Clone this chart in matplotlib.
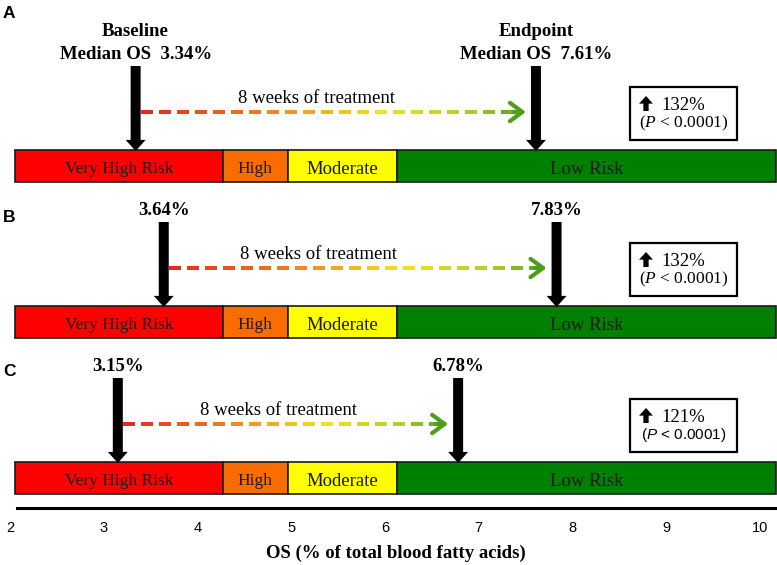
import numpy as np
import matplotlib
matplotlib.use('Agg')
import matplotlib.pyplot as plt
from matplotlib.collections import LineCollection
from matplotlib.colors import LinearSegmentedColormap
from matplotlib.patches import Rectangle

plt.rcParams['font.family'] = ['Liberation Serif', 'DejaVu Serif']
plt.rcParams['mathtext.fontset'] = 'custom'
plt.rcParams['mathtext.rm'] = 'Liberation Serif'
plt.rcParams['mathtext.it'] = 'Liberation Serif:italic'
plt.rcParams['mathtext.sf'] = 'Liberation Sans:italic'

# data
panel_labels = ['A', 'B', 'C']
baseline_os = [3.34, 3.64, 3.15]
endpoint_os = [7.61, 7.83, 6.78]
increase_pct = [132, 132, 121]

risk_labels = ['Very High Risk', 'High', 'Moderate', 'Low Risk']
risk_edges = [2.05, 4.27, 4.96, 6.13, 10.17]
risk_colors = ['#ff0000', '#f86c00', '#ffff00', '#008000']

ticks = [2, 3, 4, 5, 6, 7, 8, 9, 10]
xlabel = 'OS (% of total blood fatty acids)'

# layout (pixels)
W, H = 777, 565
bar_tops = [150, 306, 462]
bar_h = 32
letter_y = [14, 217, 371]
treat_text_x = [317, 318, 279]
risk_sizes = [12.5, 12.5, 13.5, 13.5]
PT = 0.72  # points per pixel at dpi 100


def px2v(px):
    return 2 + (px - 10) / 93.75


def v2px(v):
    return 10 + (v - 2) * 93.75


grad = LinearSegmentedColormap.from_list(
    'treat', [(0, '#e52620'), (0.3, '#f07a1e'), (0.62, '#f4e21c'),
              (0.85, '#b2cf28'), (1, '#4e9e1c')])

fig = plt.figure(figsize=(W / 100, H / 100), dpi=100)
ax = fig.add_axes([0, 0, 1, 1])
ax.set_xlim(px2v(0), px2v(W))
ax.set_ylim(H, 0)
ax.axis('off')

for i in range(3):
    top = bar_tops[i]
    b = baseline_os[i]
    e = endpoint_os[i]

    # risk bar
    lefts = risk_edges[:-1]
    widths = np.diff(risk_edges)
    ax.barh([top + bar_h / 2] * 4, widths, left=lefts, height=bar_h,
            color=risk_colors, edgecolor='#1a1a1a', linewidth=1.2, zorder=2)
    for j in range(4):
        ax.text(lefts[j] + widths[j] / 2, top + bar_h / 2 + 1, risk_labels[j],
                ha='center', va='center_baseline', fontsize=risk_sizes[j],
                color='#1a1a1a', zorder=3)

    # black down arrows
    for x in (b, e):
        ax.annotate('', xy=(x, top + 1), xytext=(x, top - 84),
                    arrowprops=dict(arrowstyle='simple,head_width=14.4,head_length=8,tail_width=7.2',
                                    mutation_scale=1, fc='black', ec='none',
                                    shrinkA=0, shrinkB=0), zorder=4)

    # value labels
    if i == 0:
        ax.text(b, top - 114, 'Baseline', ha='center', va='baseline',
                fontsize=13.5, fontweight='bold')
        ax.text(b, top - 91, f'Median OS  {b:.2f}%', ha='center', va='baseline',
                fontsize=13.5, fontweight='bold')
        ax.text(e, top - 114, 'Endpoint', ha='center', va='baseline',
                fontsize=13.5, fontweight='bold')
        ax.text(e, top - 91, f'Median OS  {e:.2f}%', ha='center', va='baseline',
                fontsize=13.5, fontweight='bold')
    else:
        ax.text(b, top - 91, f'{b:.2f}%', ha='center', va='baseline',
                fontsize=13.5, fontweight='bold')
        ax.text(e, top - 91, f'{e:.2f}%', ha='center', va='baseline',
                fontsize=13.5, fontweight='bold')

    # gradient dashed arrow
    y = top - 38
    start_px = v2px(b) + 5
    tip_px = v2px(e) - 10
    stop_px = tip_px - 12
    segs, cols = [], []
    p = start_px
    while p < stop_px:
        q = min(p + 12, stop_px)
        segs.append([(px2v(p), y), (px2v(q), y)])
        cols.append(grad((0.5 * (p + q) - start_px) / (tip_px - start_px)))
        p += 18
    ax.add_collection(LineCollection(segs, colors=cols, linewidths=4 * PT,
                                     capstyle='butt', zorder=3))
    ax.annotate('', xy=(px2v(tip_px), y), xytext=(px2v(stop_px), y),
                arrowprops=dict(arrowstyle='->,head_length=0.75,head_width=0.55',
                                mutation_scale=12, lw=3, color=grad(1.0),
                                shrinkA=0, shrinkB=0), zorder=3)
    ax.text(px2v(treat_text_x[i]), top - 47, '8 weeks of treatment',
            ha='center', va='baseline', fontsize=13.5)

    # change box
    ax.add_patch(Rectangle((px2v(630), top - 63), px2v(737) - px2v(630), 53,
                           fc='white', ec='black', lw=1.6, zorder=2))
    ax.annotate('', xy=(px2v(646), top - 54), xytext=(px2v(646), top - 39),
                arrowprops=dict(arrowstyle='simple,head_width=10,head_length=5.5,tail_width=3.8',
                                mutation_scale=1, fc='black', ec='none',
                                shrinkA=0, shrinkB=0), zorder=3)
    ax.text(px2v(661), top - 40, f'{increase_pct[i]}%', ha='left', va='baseline',
            fontsize=13.5, zorder=3)
    if i < 2:
        ax.text(px2v(684), top - 23, r'($P$ < 0.0001)', ha='center', va='baseline',
                fontsize=12.5, zorder=3)
    else:
        ax.text(px2v(684), top - 23, r'($\mathsf{P}$ < 0.0001)', ha='center',
                va='baseline', fontsize=11, family=['Liberation Sans'], zorder=3)

    ax.text(px2v(9), letter_y[i], panel_labels[i], ha='center', va='center',
            fontsize=12.5, fontweight='bold', family=['Liberation Sans'])

# bottom scale
ax2 = fig.add_axes([0, 1 - 508 / H, 1, 0.0001])
ax2.set_facecolor('none')
ax2.set_xlim(px2v(0), px2v(W))
for s in ('top', 'left', 'right'):
    ax2.spines[s].set_visible(False)
ax2.spines['bottom'].set_bounds(px2v(17), px2v(776))
ax2.spines['bottom'].set_linewidth(2.2)
ax2.set_yticks([])
ax2.set_xticks(ticks)
ax2.set_xticklabels([str(t) for t in ticks], family='Liberation Sans')
ax2.tick_params(axis='x', length=0, pad=9.5, labelsize=10.5)

ax.text(px2v(396), 553, xlabel, ha='center', va='center', fontsize=13.5,
        fontweight='bold')

fig.savefig('out.png', dpi=100)
